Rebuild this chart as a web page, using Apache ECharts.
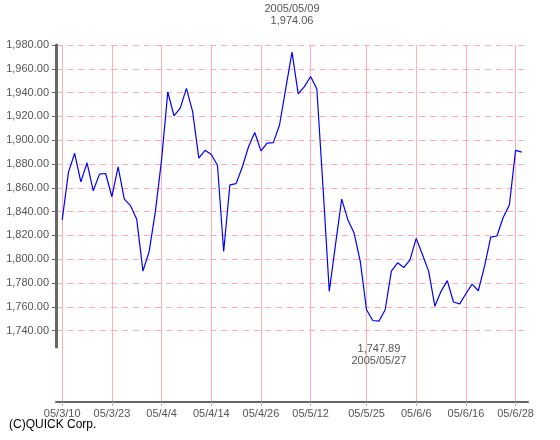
<!DOCTYPE html>
<html><head><meta charset="utf-8">
<script src="https://cdn.jsdelivr.net/npm/echarts@6/dist/echarts.min.js"></script>
<style>html,body{margin:0;padding:0;background:#fff}#c{width:560px;height:440px}</style>
</head><body><div id="c"></div>
<script>
// Trading days (TSE), 2005/03/10 - 2005/06/29
const dates = [
 '2005/03/10','2005/03/11','2005/03/14','2005/03/15','2005/03/16','2005/03/17','2005/03/18','2005/03/22','2005/03/23','2005/03/24',
 '2005/03/25','2005/03/28','2005/03/29','2005/03/30','2005/03/31','2005/04/01','2005/04/04','2005/04/05','2005/04/06','2005/04/07',
 '2005/04/08','2005/04/11','2005/04/12','2005/04/13','2005/04/14','2005/04/15','2005/04/18','2005/04/19','2005/04/20','2005/04/21',
 '2005/04/22','2005/04/25','2005/04/26','2005/04/27','2005/04/28','2005/05/02','2005/05/06','2005/05/09','2005/05/10','2005/05/11',
 '2005/05/12','2005/05/13','2005/05/16','2005/05/17','2005/05/18','2005/05/19','2005/05/20','2005/05/23','2005/05/24','2005/05/25',
 '2005/05/26','2005/05/27','2005/05/30','2005/05/31','2005/06/01','2005/06/02','2005/06/03','2005/06/06','2005/06/07','2005/06/08',
 '2005/06/09','2005/06/10','2005/06/13','2005/06/14','2005/06/15','2005/06/16','2005/06/17','2005/06/20','2005/06/21','2005/06/22',
 '2005/06/23','2005/06/24','2005/06/27','2005/06/28','2005/06/29'
];
const values = [
 1833, 1873, 1889, 1865, 1881, 1857.5, 1871.5, 1872, 1852.5, 1877.5,
 1850.5, 1845, 1833.5, 1790, 1806.5, 1840, 1883.5, 1940.5, 1920.5, 1927,
 1943.5, 1924, 1885, 1891.5, 1888, 1879, 1806.5, 1862.5, 1863.5, 1877.5,
 1894.5, 1906.5, 1891, 1897.5, 1898, 1913, 1943.5, 1974.06, 1939, 1945,
 1953.5, 1943, 1860, 1773, 1812, 1850.5, 1833, 1822, 1798, 1757.5,
 1748.5, 1747.89, 1757.5, 1790, 1797, 1793, 1799.5, 1817.5, 1804, 1790,
 1760.5, 1773, 1782, 1764, 1762.5, 1771, 1779, 1773.5, 1794, 1818.5,
 1819.5, 1835, 1845.5, 1891.5, 1890
];
// empty slots at both ends of the axis
const padStart = '2005/03/09';
const padEnd = '2005/06/30';
// dates that carry an x tick label
const labelDates = ['2005/03/10','2005/03/23','2005/04/04','2005/04/14','2005/04/26','2005/05/12','2005/05/25','2005/06/06','2005/06/16','2005/06/28'];
// y tick labels
const yTicks = [1740,1760,1780,1800,1820,1840,1860,1880,1900,1920,1940,1960,1980];

const cats = [padStart].concat(dates, [padEnd]);
const seriesData = ['-'].concat(values, ['-']);

function fmt(v) {
  const s = v.toFixed(2).split('.');
  return s[0].replace(/\B(?=(\d{3})+(?!\d))/g, ',') + '.' + s[1];
}
function shortDate(d) {
  const p = d.split('/');
  return p[0].slice(2) + '/' + parseInt(p[1], 10) + '/' + parseInt(p[2], 10);
}
const isLabel = (i, v) => labelDates.indexOf(v) >= 0;

const maxV = Math.max.apply(null, values), minV = Math.min.apply(null, values);
const maxIdx = values.indexOf(maxV), minIdx = values.indexOf(minV);

const FONT = 'Liberation Sans';
const GRAY = '#555';
const PINK = '#ffadb6';

const chart = echarts.init(document.getElementById('c'), null, {renderer: 'canvas'});
chart.setOption({
  animation: false,
  backgroundColor: '#fff',
  textStyle: {fontFamily: FONT},
  title: {
    text: '(C)QUICK Corp.', left: 9, top: 419, padding: 0,
    textStyle: {fontSize: 12, fontWeight: 'normal', color: '#000', fontFamily: FONT}
  },
  grid: [
    {left: 56, right: 32, top: 45, bottom: 38},
    {left: 56, right: 32, top: 45, height: 302}
  ],
  xAxis: [
    {
      type: 'category', gridIndex: 0, data: cats, boundaryGap: false,
      axisLine: {lineStyle: {color: '#666', width: 2}},
      axisTick: {interval: isLabel, length: 4, lineStyle: {color: '#bbb'}},
      axisLabel: {interval: isLabel, formatter: shortDate, color: GRAY, fontSize: 11, margin: 6, fontFamily: FONT},
      splitLine: {show: true, interval: isLabel, lineStyle: {color: PINK, width: 1}}
    },
    {type: 'value', gridIndex: 1, show: false, min: 0, max: 1}
  ],
  yAxis: [
    {
      type: 'value', gridIndex: 0, min: 1680, max: 1980, interval: 20,
      axisLine: {show: false},
      axisTick: {show: true, length: 4, customValues: yTicks, lineStyle: {color: '#666'}},
      axisLabel: {customValues: yTicks, formatter: v => (v < 1740 ? '' : fmt(v)), color: GRAY, fontSize: 11, margin: 7, fontFamily: FONT},
      splitLine: {show: true, lineStyle: {color: PINK, type: [6, 5], width: 1}}
    },
    {
      type: 'value', gridIndex: 1, min: 0, max: 1,
      axisLine: {show: true, onZero: false, lineStyle: {color: '#666', width: 3}},
      axisTick: {show: false}, axisLabel: {show: false}, splitLine: {show: false}
    }
  ],
  series: [{
    type: 'line', xAxisIndex: 0, yAxisIndex: 0, data: seriesData,
    showSymbol: false, symbol: 'none',
    lineStyle: {color: '#0000ff', width: 1.2},
    markPoint: {
      symbol: 'circle', symbolSize: 0, silent: true,
      itemStyle: {color: 'transparent'},
      label: {show: true, color: GRAY, fontSize: 11, lineHeight: 12, fontFamily: FONT, align: 'center'},
      data: [
        {coord: [dates[maxIdx], maxV], value: maxV,
         label: {position: 'top', distance: 25, formatter: dates[maxIdx] + '\n' + fmt(maxV)}},
        {coord: [dates[minIdx], minV], value: minV,
         label: {position: 'bottom', distance: 22, formatter: fmt(minV) + '\n' + dates[minIdx]}}
      ]
    }
  }]
});
</script>
</body></html>
